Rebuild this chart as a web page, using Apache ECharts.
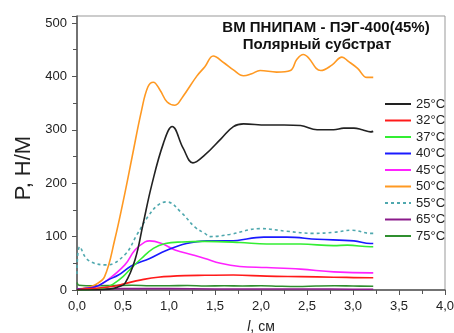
<!DOCTYPE html>
<html>
<head>
<meta charset="utf-8">
<script src="https://cdn.jsdelivr.net/npm/echarts@6/dist/echarts.min.js"></script>
<style>
html, body { margin: 0; padding: 0; background: #fff; }
#chart { width: 454px; height: 333px; }
</style>
</head>
<body>
<div id="chart"></div>
<script>
// [l, P] points
var t25 = [[0,0],[0.3,1],[0.4,3],[0.45,6],[0.52,12],[0.63,56],[0.72,125],[0.81,195],[0.94,275],[1.035,306],[1.155,265],[1.26,238],[1.39,253],[1.57,284],[1.7,306],[1.81,311],[2.06,309],[2.25,309],[2.43,308],[2.61,300],[2.79,300],[2.9,303],[3.01,303],[3.1,300],[3.19,296],[3.22,297]];
var t32 = [[0,1],[0.2,3],[0.4,7],[0.52,12],[0.7,19],[0.88,24],[1.17,27],[1.39,27.5],[1.7,28],[2.06,26],[2.43,25],[2.79,24],[3.19,23],[3.22,23]];
var t37 = [[0,0],[0.3,4],[0.4,12],[0.5,25],[0.59,41],[0.7,59],[0.83,78],[0.96,87],[1.14,90],[1.39,91],[1.77,89],[2.06,86],[2.43,86],[2.79,83],[2.94,84],[3.19,81],[3.22,81]];
var t40 = [[0,2],[0.2,6],[0.34,19],[0.45,28],[0.59,45],[0.79,59],[0.97,74],[1.19,87],[1.41,92],[1.66,92],[2.03,99],[2.28,99],[2.61,95],[3.01,92],[3.19,87],[3.22,87]];
var t45 = [[0,2],[0.2,6],[0.32,17],[0.52,47],[0.63,75],[0.74,90],[0.79,92],[0.92,87],[1.065,75],[1.25,66],[1.39,59],[1.56,50],[1.77,44],[2.06,42],[2.43,39],[2.79,34],[3.19,32],[3.22,32]];
var t50 = [[0,2],[0.1,4],[0.2,10],[0.3,25],[0.41,94],[0.52,181],[0.6,250],[0.7,335],[0.77,380],[0.83,389],[0.9,375],[0.98,352],[1.065,346],[1.15,362],[1.3,400],[1.39,418],[1.48,438],[1.6,425],[1.7,412],[1.81,401],[1.9,405],[1.99,411],[2.17,408],[2.32,411],[2.39,432],[2.46,441],[2.52,434],[2.6,415],[2.65,411],[2.77,421],[2.88,436],[2.95,428],[3.05,415],[3.15,398],[3.22,398]];
var t55 = [[0,30],[0.03,81],[0.12,56],[0.32,47],[0.52,66],[0.65,103],[0.77,137],[0.88,159],[0.975,165],[1.14,144],[1.28,118],[1.39,106],[1.45,100],[1.66,104],[1.99,115],[2.28,110],[2.57,106],[2.79,108],[2.99,112],[3.19,106],[3.22,106]];
var t65 = [[0,2],[0.5,2.5],[1,2.5],[1.5,2],[2,2],[2.5,2],[3,1.5],[3.22,1.5]];
var t75 = [[0,14],[0.02,9],[0.2,8],[0.4,8.5],[0.6,9],[0.8,8],[1.0,8],[1.2,8.5],[1.4,7.5],[1.6,8],[1.8,7.5],[2.0,8],[2.2,7],[2.4,6.5],[2.6,7.5],[2.8,8],[3.0,7.5],[3.22,7]];

var names = ['25°C', '32°C', '37°C', '40°C', '45°C', '50°C', '55°C', '65°C', '75°C'];
var colors = ['#222222', '#ff1a1a', '#33ee33', '#1a1aff', '#ff22ff', '#ff9922', '#4fa8ae', '#8a1a8a', '#2f8f2f'];
var curves = [t25, t32, t37, t40, t45, t50, t55, t65, t75];

var chart = echarts.init(document.getElementById('chart'));

var series = curves.map(function (d, i) {
    return {
        name: names[i],
        type: 'line',
        data: d,
        symbol: 'none',
        smooth: 0.4,
        z: 10 - i,
        lineStyle: {
            color: colors[i],
            width: 1.6,
            type: i === 6 ? [3, 3] : 'solid'
        },
        itemStyle: { color: colors[i] }
    };
});

var font = 'Liberation Sans';

chart.setOption({
    animation: false,
    backgroundColor: '#fff',
    legend: {
        orient: 'vertical',
        left: 384,
        top: 97,
        padding: 0,
        itemWidth: 26,
        itemHeight: 14,
        itemGap: 2.5,
        data: names,
        itemStyle: { opacity: 0 },
        textStyle: { fontFamily: font, fontSize: 13, lineHeight: 14, color: '#222' }
    },
    grid: {
        left: 77,
        right: 9,
        top: 16,
        bottom: 43,
        outerBoundsMode: 'none',
        containLabel: false,
        show: true,
        borderColor: '#999',
        borderWidth: 1
    },
    xAxis: {
        type: 'value',
        min: 0,
        max: 4,
        interval: 0.5,
        name: '{i|l}, см',
        nameLocation: 'middle',
        nameGap: 30,
        nameTextStyle: {
            fontFamily: font,
            fontSize: 14,
            color: '#222',
            rich: { i: { fontStyle: 'italic', fontFamily: font, fontSize: 14, color: '#222' } }
        },
        axisLine: { lineStyle: { color: '#555', width: 1.5 } },
        axisTick: { length: 5, lineStyle: { color: '#555' } },
        minorTick: { show: true, splitNumber: 2, length: 4, lineStyle: { color: '#555' } },
        splitLine: { show: false },
        axisLabel: {
            margin: 10,
            fontFamily: font,
            fontSize: 13,
            color: '#222',
            formatter: function (v) { return v.toFixed(1).replace('.', ','); }
        }
    },
    yAxis: {
        type: 'value',
        min: 0,
        max: 513,
        interval: 100,
        axisLine: { show: true, lineStyle: { color: '#555', width: 1.5 } },
        axisTick: { show: true, length: 5, lineStyle: { color: '#555' } },
        minorTick: { show: true, splitNumber: 2, length: 4, lineStyle: { color: '#555' } },
        splitLine: { show: false },
        axisLabel: {
            margin: 10,
            fontFamily: font,
            fontSize: 13,
            color: '#222',
            formatter: function (v) { return v % 100 === 0 ? String(v) : ''; }
        }
    },
    graphic: [{
        type: 'text',
        x: 24,
        y: 168,
        rotation: Math.PI / 2,
        style: {
            text: 'P, Н/М',
            fontFamily: font,
            fontSize: 22,
            fill: '#222',
            align: 'center',
            verticalAlign: 'middle'
        }
    }, {
        type: 'text',
        x: 326,
        y: 28,
        z: 100,
        style: {
            text: 'ВМ ПНИПАМ - ПЭГ-400(45%)',
            fontFamily: font,
            fontSize: 15,
            fontWeight: 'bold',
            fill: '#111',
            align: 'center',
            verticalAlign: 'middle'
        }
    }, {
        type: 'text',
        x: 317,
        y: 45,
        z: 100,
        style: {
            text: 'Полярный субстрат',
            fontFamily: font,
            fontSize: 15,
            fontWeight: 'bold',
            fill: '#111',
            align: 'center',
            verticalAlign: 'middle'
        }
    }],
    series: series
});
</script>
</body>
</html>
